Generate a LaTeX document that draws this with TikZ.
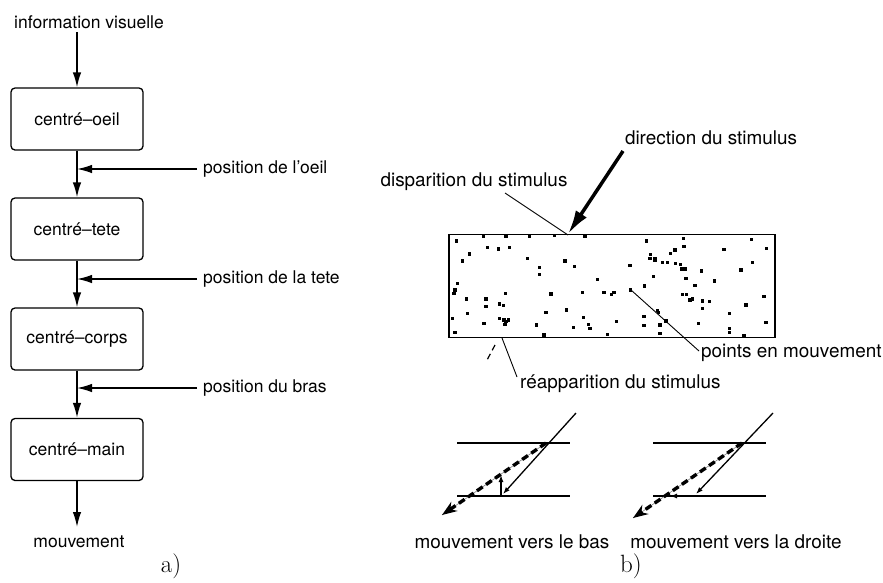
\documentclass[tikz,border=0pt]{standalone}
\usepackage{fontspec}
\setsansfont{TeX Gyre Heros}
\usetikzlibrary{arrows.meta}
\begin{document}
\begin{tikzpicture}[x=1pt,y=-1pt,
  lbl/.style={font=\sffamily\fontsize{17.5}{20}\selectfont, inner sep=0pt},
  rlbl/.style={font=\sffamily\fontsize{18.9}{22}\selectfont, inner sep=0pt},
  stagebox/.style={draw, line width=1.3pt, rounded corners=4pt, minimum width=132pt,
     minimum height=62pt, inner sep=0pt, font=\sffamily\fontsize{17.5}{20}\selectfont},
  flow/.style={line width=1.5pt, -{Latex[length=15pt,width=8.5pt]}},
  thinline/.style={line width=0.9pt},
  hline/.style={line width=1.4pt},
  smallarr/.style={line width=1.3pt, -{Latex[length=7pt,width=5pt]}},
  percept/.style={line width=3.4pt, dash pattern=on 7pt off 4pt, -{Stealth[length=15pt,width=11pt]}},
  guide/.style={line width=0.6pt, gray},
  capt/.style={font=\fontsize{25}{27}\selectfont, inner sep=0pt}
]
\useasboundingbox (0,0) rectangle (883,582);

% ---------------- panel a ----------------
\node[lbl] (info) at (89,22) {information visuelle};
\node[stagebox] (b1) at (77,119) {centré–oeil};
\node[stagebox] (b2) at (77,229) {centré–tete};
\node[stagebox] (b3) at (77,339) {centré–corps};
\node[stagebox] (b4) at (77,449.5) {centré–main};
\node[lbl] (mv) at (79,542) {mouvement};
\node[lbl,anchor=west] (p1) at (203,169) {position de l’oeil};
\node[lbl,anchor=west] (p2) at (203,279) {position de la tete};
\node[lbl,anchor=west] (p3) at (203,388) {position du bras};
\coordinate (infoEnd) at (77,32);
\coordinate (mvTop) at (77,527);

\draw[flow] (infoEnd) -- (b1.north);
\draw[flow] (b1) -- (b2);
\draw[flow] (b2) -- (b3);
\draw[flow] (b3) -- (b4);
\draw[flow] (b4.south) -- (mvTop);
\draw[flow] ([xshift=-6pt]p1.west) -- (p1.west -| b1.south);
\draw[flow] ([xshift=-6pt]p2.west) -- (p2.west -| b2.south);
\draw[flow] ([xshift=-6pt]p3.west) -- (p3.west -| b3.south);

\node[capt] (capa) at (171,566) {a)};

% ---------------- panel b ----------------
\node[draw, line width=1.2pt, minimum width=326pt, minimum height=103pt, inner sep=0pt] (stim) at (612,286) {};
\foreach \a/\b in {50/48,130/35,198/35,268/35,343/32,435/33,143/68,175/72,208/68,88/87,68/108,262/100,
  298/128,298/148,375/108,403/125,52/175,45/195,42/205,80/222,138/222,138/245,178/237,190/242,197/205,
  333/207,428/202,473/163,492/202,515/208,522/202,570/122,572/195,620/48,632/88,630/100,645/100,645/107,
  668/113,683/113,692/85,705/75,707/115,730/40,732/65,725/132,735/132,738/160,722/118,785/138,823/168,
  765/182,640/155,613/183,728/208,740/208,750/225,758/222,788/228,808/230,788/250,852/73,935/43,980/70,
  938/113,903/135,972/215,918/240,868/265,978/293,868/310,868/323,912/332,82/265,132/295,178/280,
  192/285,198/290,205/285,195/298,38/280,45/322,318/262,380/255,290/300,312/330,400/307,430/278,
  445/298,450/310,502/328,530/290,612/275,612/302,652/257,655/262,660/300,660/325,678/288,775/295}
  \fill ({440+\a/3-1.8},{225+\b/3-1.8}) rectangle ++(3.6,3.6);

\node[rlbl] (dir) at (711,138) {direction du stimulus};
\coordinate (dirS) at (623,151);
\coordinate (dirT) at (568,234);
\draw[line width=3.5pt, -{Latex[length=24pt,width=13pt]}] (dirS) -- (dirT);

\node[rlbl] (disp) at (474,182) {disparition du stimulus};
\coordinate (dispA) at (505,193);
\coordinate (dispB) at (568,235);
\draw[thinline] (dispA) -- (dispB);

\node[rlbl,anchor=west] (reap) at (520,384) {réapparition du stimulus};
\coordinate (reapA) at (502,338);
\coordinate (reapB) at (517,377);
\draw[thinline] (reapA) -- (reapB);

\coordinate (dashA) at (495,345);
\coordinate (dashB) at (486,362);
\draw[line width=1.2pt, dash pattern=on 6pt off 4pt] (dashA) -- (dashB);

\node[rlbl,anchor=west] (pts) at (701,353) {points en mouvement};
\coordinate (ptA) at (631,290);
\coordinate (ptB) at (699,351);
\draw[thinline] (ptA) -- (ptB);

% left small diagram
\coordinate (l1a) at (457,443); \coordinate (l1b) at (570,443);
\coordinate (l2a) at (457,496); \coordinate (l2b) at (570,496);
\draw[hline] (l1a) -- (l1b);
\draw[hline] (l2a) -- (l2b);
\coordinate (ls) at (576,413); \coordinate (le) at (503,494);
\draw[smallarr] (ls) -- (le);
\coordinate (lv1) at (501,496); \coordinate (lv2) at (501,475);
\draw[smallarr] (lv1) -- (lv2);
\coordinate (lp1) at (546,443); \coordinate (lp2) at (442,515);
\draw[guide] (lp1) -- (lp2);
\draw[percept] (lp1) -- (lp2);

% right small diagram
\coordinate (r1a) at (653,443); \coordinate (r1b) at (766,443);
\coordinate (r2a) at (653,496); \coordinate (r2b) at (766,496);
\draw[hline] (r1a) -- (r1b);
\draw[hline] (r2a) -- (r2b);
\coordinate (rs) at (773,413); \coordinate (re) at (696,494);
\draw[smallarr] (rs) -- (re);
\coordinate (rh1) at (696,496); \coordinate (rh2) at (670,496);
\draw[smallarr] (rh1) -- (rh2);
\coordinate (rp1) at (742,443); \coordinate (rp2) at (633,518);
\draw[guide] (rp1) -- (rp2);
\draw[percept] (rp1) -- (rp2);

\node[rlbl] (mb) at (512,542) {mouvement vers le bas};
\node[rlbl] (md) at (736,542) {mouvement vers la droite};
\node[capt] (capb) at (631,566) {b)};
\end{tikzpicture}
\end{document}
